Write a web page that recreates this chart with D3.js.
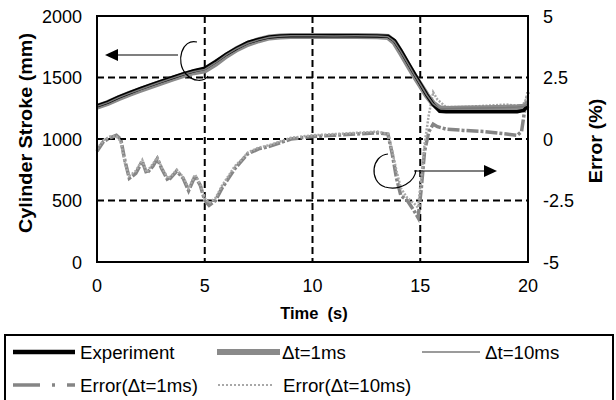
<!DOCTYPE html>
<html>
<head>
<meta charset="utf-8">
<script src="https://cdn.jsdelivr.net/npm/d3@7"></script>
<style>
  body { margin: 0; background: #fff; }
  svg { display: block; font-family: "Liberation Sans", Arial, sans-serif; }
</style>
</head>
<body>
<div id="chart"></div>
<script>
// stroke data (mm)
const timeStroke = [0, 0.5, 1, 1.5, 2, 2.5, 3, 3.5, 4, 4.5, 5, 5.5, 6, 6.5, 7, 7.5, 8, 8.5, 9, 10, 11, 12, 13, 13.5, 13.8, 14.1, 14.4, 14.7, 15, 15.3, 15.6, 15.9, 16.2, 17, 18, 19, 19.5, 19.8, 20];
const experiment = [1270, 1300, 1340, 1375, 1410, 1440, 1470, 1500, 1530, 1555, 1575, 1630, 1690, 1740, 1785, 1810, 1830, 1838, 1840, 1840, 1840, 1840, 1838, 1835, 1800, 1720, 1630, 1540, 1450, 1360, 1280, 1225, 1222, 1222, 1222, 1222, 1222, 1232, 1270];
const sim1ms = [1262, 1292, 1332, 1367, 1398, 1430, 1460, 1490, 1520, 1543, 1558, 1612, 1678, 1732, 1774, 1803, 1826, 1834, 1838, 1838, 1837, 1838, 1836, 1830, 1788, 1702, 1612, 1522, 1440, 1356, 1288, 1250, 1244, 1248, 1250, 1255, 1258, 1262, 1278];
const sim10ms = [1265, 1296, 1336, 1371, 1403, 1435, 1465, 1495, 1525, 1548, 1565, 1620, 1684, 1736, 1778, 1806, 1828, 1836, 1839, 1839, 1838, 1839, 1837, 1832, 1792, 1710, 1620, 1530, 1445, 1358, 1285, 1248, 1246, 1250, 1252, 1256, 1260, 1264, 1280];

// error data (%)
const timeErr = [0, 0.3, 0.6, 0.9, 1.1, 1.3, 1.5, 1.8, 2.1, 2.3, 2.6, 2.8, 3.0, 3.3, 3.5, 3.7, 4.0, 4.25, 4.55, 4.8, 5.0, 5.2, 5.5, 5.8, 6.1, 6.4, 6.7, 7.0, 7.5, 8, 8.5, 9, 9.5, 10, 11, 12, 13, 13.5, 13.7, 13.9, 14.1, 14.4, 14.7, 14.9, 15.05, 15.2, 15.4, 15.6, 15.8, 16.2, 17, 18, 19, 19.5, 19.7, 19.85, 20];
const err1ms = [-0.5, -0.1, 0.05, 0.15, 0.0, -0.9, -1.6, -1.4, -0.9, -1.4, -1.1, -0.8, -1.2, -1.7, -1.5, -1.3, -1.6, -2.1, -1.5, -1.9, -2.5, -2.7, -2.5, -2.0, -1.6, -1.2, -0.9, -0.6, -0.4, -0.3, -0.15, 0.0, 0.05, 0.1, 0.15, 0.2, 0.25, 0.2, -0.6, -1.6, -2.3, -2.5, -2.9, -3.2, -2.0, -0.5, 0.3, 0.6, 0.5, 0.4, 0.35, 0.3, 0.2, 0.15, 0.3, 1.2, 1.9];
const err10ms = [-0.4, -0.05, 0.1, 0.1, -0.1, -1.0, -1.5, -1.3, -0.85, -1.35, -1.0, -0.75, -1.15, -1.6, -1.45, -1.25, -1.55, -2.0, -1.45, -1.85, -2.4, -2.6, -2.4, -1.9, -1.5, -1.1, -0.85, -0.55, -0.35, -0.25, -0.1, 0.05, 0.1, 0.15, 0.2, 0.25, 0.3, 0.2, -0.5, -1.3, -2.0, -2.4, -2.6, -2.8, -1.5, -0.2, 1.0, 1.9, 1.6, 1.3, 1.3, 1.35, 1.4, 1.35, 1.35, 1.5, 1.8];

const xTicks = [0, 5, 10, 15, 20];
const yTicks = [0, 500, 1000, 1500, 2000];
const y2Ticks = [-5, -2.5, 0, 2.5, 5];

const width = 616, height = 400;
const plotL = 97, plotR = 528, plotT = 16, plotB = 262;

const svg = d3.select("#chart").append("svg")
  .attr("width", width)
  .attr("height", height);

const x = d3.scaleLinear().domain([0, 20]).range([plotL, plotR]);
const y = d3.scaleLinear().domain([0, 2000]).range([plotB, plotT]);
const y2 = d3.scaleLinear().domain([-5, 5]).range([plotB, plotT]);

// grid
const grid = svg.append("g")
  .attr("stroke", "#000")
  .attr("stroke-width", 2)
  .attr("stroke-dasharray", "7,4");
grid.selectAll(".gx").data(xTicks.slice(1, -1)).enter().append("line")
  .attr("x1", d => x(d)).attr("x2", d => x(d))
  .attr("y1", plotT).attr("y2", plotB);
grid.selectAll(".gy").data(yTicks.slice(1, -1)).enter().append("line")
  .attr("x1", plotL).attr("x2", plotR)
  .attr("y1", d => y(d)).attr("y2", d => y(d));

// series
const lineStroke = vals => d3.line().x((d, i) => x(timeStroke[i])).y(d => y(d))(vals);
const lineErr = vals => d3.line().x((d, i) => x(timeErr[i])).y(d => y2(d))(vals);

svg.append("path").attr("d", lineErr(err1ms))
  .attr("fill", "none").attr("stroke", "#858585").attr("stroke-width", 3.5)
  .attr("stroke-dasharray", "12,2,3,2");
svg.append("path").attr("d", lineErr(err10ms))
  .attr("fill", "none").attr("stroke", "#a8a8a8").attr("stroke-width", 2.5)
  .attr("stroke-dasharray", "2,1.5");
svg.append("path").attr("d", lineStroke(sim1ms))
  .attr("fill", "none").attr("stroke", "#8a8a8a").attr("stroke-width", 6);
svg.append("path").attr("d", lineStroke(experiment))
  .attr("fill", "none").attr("stroke", "#000").attr("stroke-width", 3.5);
svg.append("path").attr("d", lineStroke(sim10ms))
  .attr("fill", "none").attr("stroke", "#7a7a7a").attr("stroke-width", 1.5);

// frame
svg.append("rect")
  .attr("x", plotL).attr("y", plotT)
  .attr("width", plotR - plotL).attr("height", plotB - plotT)
  .attr("fill", "none").attr("stroke", "#000").attr("stroke-width", 2);

// tick labels
svg.selectAll(".yl").data(yTicks).enter().append("text")
  .attr("x", 82).attr("y", d => y(d) + 6.5)
  .attr("text-anchor", "end").attr("font-size", 18)
  .text(d => d);
svg.selectAll(".y2l").data(y2Ticks).enter().append("text")
  .attr("x", 543).attr("y", d => y2(d) + 6.5)
  .attr("font-size", 18)
  .text(d => d);
svg.selectAll(".xl").data(xTicks).enter().append("text")
  .attr("x", d => x(d)).attr("y", 291.5)
  .attr("text-anchor", "middle").attr("font-size", 18)
  .text(d => d);

// axis titles
svg.append("text")
  .attr("transform", "translate(32,133) rotate(-90) scale(1.1,1)")
  .attr("text-anchor", "middle").attr("font-size", 18).attr("font-weight", "bold")
  .text("Cylinder Stroke (mm)");
svg.append("text")
  .attr("transform", "translate(602,141) rotate(-90) scale(1.1,1)")
  .attr("text-anchor", "middle").attr("font-size", 18).attr("font-weight", "bold")
  .text("Error (%)");
svg.append("text")
  .attr("x", 314).attr("y", 319)
  .attr("text-anchor", "middle").attr("font-size", 16.5).attr("font-weight", "bold")
  .attr("xml:space", "preserve")
  .text("Time  (s)");

// annotations
svg.append("path")
  .attr("d", "M197,42 C182,38 175,62 186,74 C193,82 204,82 208,76")
  .attr("fill", "none").attr("stroke", "#000").attr("stroke-width", 1.2);
svg.append("line").attr("x1", 178).attr("x2", 115).attr("y1", 55).attr("y2", 55)
  .attr("stroke", "#000").attr("stroke-width", 1.2);
svg.append("path").attr("d", "M105,55 L118,49 L118,61 Z").attr("fill", "#000");

svg.append("path")
  .attr("d", "M388,154 C372,155 368,181 385,187 C400,191 415,182 416,170")
  .attr("fill", "none").attr("stroke", "#000").attr("stroke-width", 1.2);
svg.append("line").attr("x1", 414).attr("x2", 486).attr("y1", 171).attr("y2", 171)
  .attr("stroke", "#000").attr("stroke-width", 1.2);
svg.append("path").attr("d", "M497,171 L484,165 L484,177 Z").attr("fill", "#000");

// legend
const legend = svg.append("g");
legend.append("rect")
  .attr("x", 5).attr("y", 335).attr("width", 608).attr("height", 70)
  .attr("fill", "none").attr("stroke", "#000").attr("stroke-width", 2);

const legendItems = [
  { label: "Experiment", x0: 13, x1: 75, tx: 80, row: 0, color: "#000", w: 4.5, dash: null },
  { label: "\u0394t=1ms", x0: 217, x1: 280, tx: 282, row: 0, color: "#8a8a8a", w: 6, dash: null },
  { label: "\u0394t=10ms", x0: 422, x1: 480, tx: 485, row: 0, color: "#7a7a7a", w: 1.5, dash: null },
  { label: "Error(\u0394t=1ms)", x0: 13, x1: 75, tx: 80, row: 1, color: "#858585", w: 3.5, dash: "27,12,3,12" },
  { label: "Error(\u0394t=10ms)", x0: 218, x1: 273, tx: 283, row: 1, color: "#a8a8a8", w: 2, dash: "2,2" }
];
const rowY = [352, 385];
legendItems.forEach(it => {
  legend.append("line")
    .attr("x1", it.x0).attr("x2", it.x1)
    .attr("y1", rowY[it.row]).attr("y2", rowY[it.row])
    .attr("stroke", it.color).attr("stroke-width", it.w)
    .attr("stroke-dasharray", it.dash);
  legend.append("text")
    .attr("x", it.tx).attr("y", rowY[it.row] + 6.5)
    .attr("font-size", 18.7)
    .text(it.label);
});
</script>
</body>
</html>
